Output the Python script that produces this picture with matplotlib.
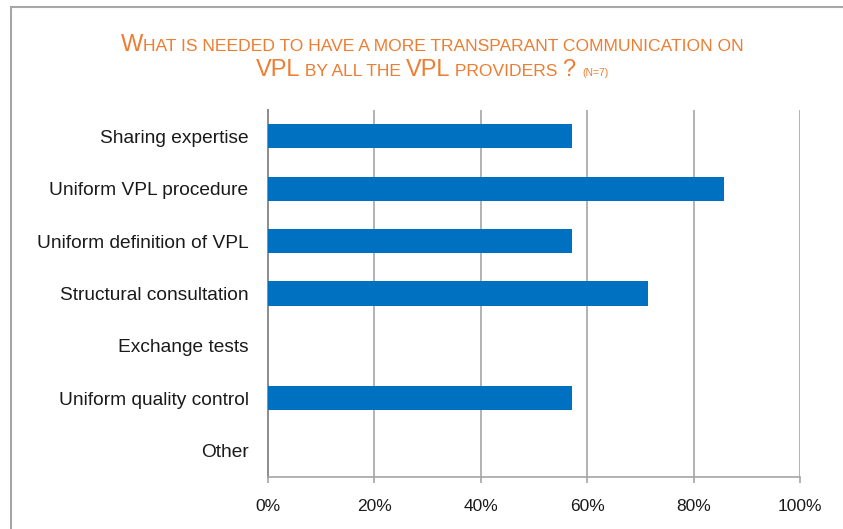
import matplotlib
matplotlib.use("Agg")
import matplotlib.pyplot as plt
import matplotlib.patches as patches
from matplotlib.offsetbox import TextArea, HPacker, VPacker, AnchoredOffsetbox
import numpy as np

categories = ["Sharing expertise", "Uniform VPL procedure", "Uniform definition of VPL",
              "Structural consultation", "Exchange tests", "Uniform quality control", "Other"]
values = [4 / 7 * 100, 6 / 7 * 100, 4 / 7 * 100, 5 / 7 * 100, 0, 4 / 7 * 100, 0]
xticks = [0, 20, 40, 60, 80, 100]
xlabels = ["0%", "20%", "40%", "60%", "80%", "100%"]

orange = "#ED7D31"
blue = "#0070C0"
grey = "#A6A6A6"

fig = plt.figure(figsize=(8.43, 5.29), dpi=100)
ax = fig.add_axes([268 / 843, 1 - 477 / 529, 532 / 843, 367 / 529])

y = np.arange(len(categories))
ax.barh(y, values, height=0.46, color=blue, zorder=3)
ax.set_ylim(len(categories) - 0.5, -0.5)
ax.set_xlim(0, 100)
ax.set_xticks(xticks)
ax.set_xticklabels(xlabels)
ax.set_yticks(y)
ax.set_yticklabels(categories)

lab_font = ["Liberation Sans", "DejaVu Sans"]
for t in ax.get_yticklabels():
    t.set_family(lab_font)
    t.set_fontsize(13.8)
    t.set_color("#1a1a1a")
for t in ax.get_xticklabels():
    t.set_family(lab_font)
    t.set_fontsize(12.5)
    t.set_color("#1a1a1a")

ax.tick_params(axis="y", length=0, pad=14)
ax.tick_params(axis="x", length=4.5, width=1.2, color=grey, pad=11)
ax.grid(axis="x", color=grey, lw=1.2, zorder=0)
for s in ["top", "right"]:
    ax.spines[s].set_visible(False)
ax.spines["bottom"].set_color(grey)
ax.spines["bottom"].set_linewidth(1.2)
ax.spines["left"].set_color("#8C8C8C")
ax.spines["left"].set_linewidth(1.4)

# outer frame of the chart area
fig.patches.append(patches.Rectangle((11 / 843, -0.1), 1.0, (529 - 7) / 529 + 0.1,
                                     transform=fig.transFigure, fill=False,
                                     edgecolor=grey, lw=1.5))

# small caps title
tfont = ["Liberation Sans Narrow", "Liberation Sans", "DejaVu Sans"]


def piece(s, size):
    return TextArea(s, textprops=dict(color=orange, fontsize=size, family=tfont))


big, small, tiny = 17, 12.6, 7.5
line1 = HPacker(children=[piece("W", big),
                          piece("HAT IS NEEDED TO HAVE A MORE TRANSPARANT COMMUNICATION ON", small)],
                align="baseline", pad=0, sep=0)
line2 = HPacker(children=[piece("VPL", big), piece(" BY ALL THE ", small),
                          piece("VPL", big), piece(" PROVIDERS ", small),
                          piece("? ", big), piece("(N=7)", tiny)],
                align="baseline", pad=0, sep=0)
title = VPacker(children=[line1, line2], align="center", pad=0, sep=2)
box = AnchoredOffsetbox(loc="upper center", child=title, frameon=False,
                        bbox_to_anchor=(432 / 843, 1 - 34 / 529),
                        bbox_transform=fig.transFigure, borderpad=0, pad=0)
fig.add_artist(box)

fig.savefig("out.png", dpi=100)
